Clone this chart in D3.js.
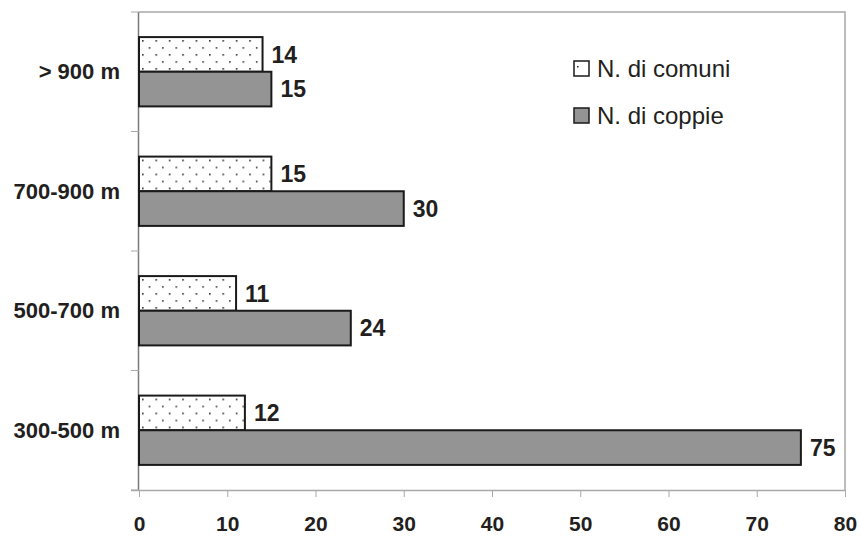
<!DOCTYPE html>
<html>
<head>
<meta charset="utf-8">
<script src="https://cdn.jsdelivr.net/npm/d3@7"></script>
<style>
  html, body { margin: 0; padding: 0; background: #fff; }
  svg { display: block; font-family: "Liberation Sans", Arial, sans-serif; }
</style>
</head>
<body>
<svg id="chart" width="860" height="536"></svg>
<script>
// Altitude classes (drawn bottom to top) and counts per class
const categories = ["300-500 m", "500-700 m", "700-900 m", "> 900 m"];
const seriesNames = ["N. di comuni", "N. di coppie"];
const comuni = [12, 11, 15, 14];
const coppie = [75, 24, 30, 15];
const xTicks = [0, 10, 20, 30, 40, 50, 60, 70, 80];

const svg = d3.select("#chart");
const plotLeft = 139, plotRight = 845, plotTop = 12, plotBottom = 490;
const ink = "#231f20";

const x = d3.scaleLinear().domain([0, 80]).range([plotLeft, plotRight]);
// categories from top to bottom
const y = d3.scaleBand()
  .domain(categories.slice().reverse())
  .range([plotTop, plotBottom])
  .paddingInner(0.42)
  .paddingOuter(0.21);
const ySub = d3.scaleBand().domain(seriesNames).range([0, y.bandwidth()]);

// dotted fill
const defs = svg.append("defs");
const pat = defs.append("pattern")
  .attr("id", "dots").attr("patternUnits", "userSpaceOnUse")
  .attr("width", 13.4).attr("height", 14).attr("x", plotLeft + 3).attr("y", 3);
pat.append("rect").attr("width", 13.4).attr("height", 14).attr("fill", "#fff");
pat.append("circle").attr("cx", 0.8).attr("cy", 0.8).attr("r", 0.9).attr("fill", "#222");
pat.append("circle").attr("cx", 7.5).attr("cy", 7.8).attr("r", 0.9).attr("fill", "#222");

const fills = { "N. di comuni": "url(#dots)", "N. di coppie": "#949494" };

// plot frame
svg.append("path")
  .attr("d", `M${plotLeft},${plotTop}H${plotRight}V${plotBottom}`)
  .attr("fill", "none").attr("stroke", "#a8a8a8").attr("stroke-width", 1.5);

// x axis
const xAxis = svg.append("g").attr("transform", `translate(0,${plotBottom})`)
  .call(d3.axisBottom(x).tickValues(xTicks).tickSize(7).tickPadding(19).tickSizeOuter(0));
xAxis.select(".domain").attr("stroke", "#a8a8a8").attr("stroke-width", 1.5)
  .attr("d", `M${plotLeft - 8},0.5H${plotRight}`);
xAxis.selectAll(".tick line").attr("stroke", "#a8a8a8").attr("stroke-width", 1);
xAxis.selectAll(".tick text")
  .attr("fill", ink).attr("font-size", 21).attr("font-weight", "bold")
  .attr("font-family", "'Liberation Sans', Arial, sans-serif");

// y axis line and boundary ticks
svg.append("line").attr("x1", plotLeft - 0.5).attr("x2", plotLeft - 0.5)
  .attr("y1", plotTop).attr("y2", plotBottom)
  .attr("stroke", "#7a7a7a").attr("stroke-width", 1.5);
const bounds = d3.range(categories.length + 1).map(i => plotTop + i * y.step());
svg.selectAll("line.ytick").data(bounds).join("line")
  .attr("class", "ytick")
  .attr("x1", plotLeft - 8).attr("x2", plotLeft)
  .attr("y1", d => d).attr("y2", d => d)
  .attr("stroke", "#a8a8a8").attr("stroke-width", 1);

// category labels
svg.selectAll("text.cat").data(categories).join("text")
  .attr("class", "cat")
  .attr("x", plotLeft - 19)
  .attr("y", d => y(d) + y.bandwidth() / 2)
  .attr("dy", "0.35em")
  .attr("text-anchor", "end")
  .attr("font-size", 22).attr("font-weight", "bold").attr("fill", ink)
  .text(d => d);

// bars
const rows = categories.map((c, i) => ({
  cat: c,
  vals: [
    { s: "N. di comuni", v: comuni[i] },
    { s: "N. di coppie", v: coppie[i] }
  ]
}));

const groups = svg.selectAll("g.grp").data(rows).join("g")
  .attr("class", "grp")
  .attr("transform", d => `translate(0,${y(d.cat)})`);

groups.selectAll("rect").data(d => d.vals).join("rect")
  .attr("x", x(0))
  .attr("y", d => ySub(d.s))
  .attr("width", d => x(d.v) - x(0))
  .attr("height", ySub.bandwidth())
  .attr("fill", d => fills[d.s])
  .attr("stroke", "#1a1a1a").attr("stroke-width", 2);

groups.selectAll("text").data(d => d.vals).join("text")
  .attr("x", d => x(d.v) + 9)
  .attr("y", d => ySub(d.s) + ySub.bandwidth() / 2)
  .attr("dy", "0.36em")
  .attr("font-size", 23).attr("font-weight", "bold").attr("fill", ink)
  .text(d => d.v);

// legend
const legend = svg.append("g").attr("transform", "translate(574,61)");
seriesNames.forEach((s, i) => {
  const g = legend.append("g").attr("transform", `translate(0,${i * 47})`);
  g.append("rect").attr("width", 15).attr("height", 15)
    .attr("fill", s === "N. di comuni" ? "#fff" : "#949494")
    .attr("stroke", "#1a1a1a").attr("stroke-width", 1.5);
  if (s === "N. di comuni") {
    g.append("rect").attr("x", 3).attr("y", 5).attr("width", 1.5).attr("height", 1.5).attr("fill", "#222");
  }
  g.append("text").attr("x", 23).attr("y", 16)
    .attr("font-size", 24).attr("fill", ink)
    .text(s);
});
</script>
</body>
</html>
